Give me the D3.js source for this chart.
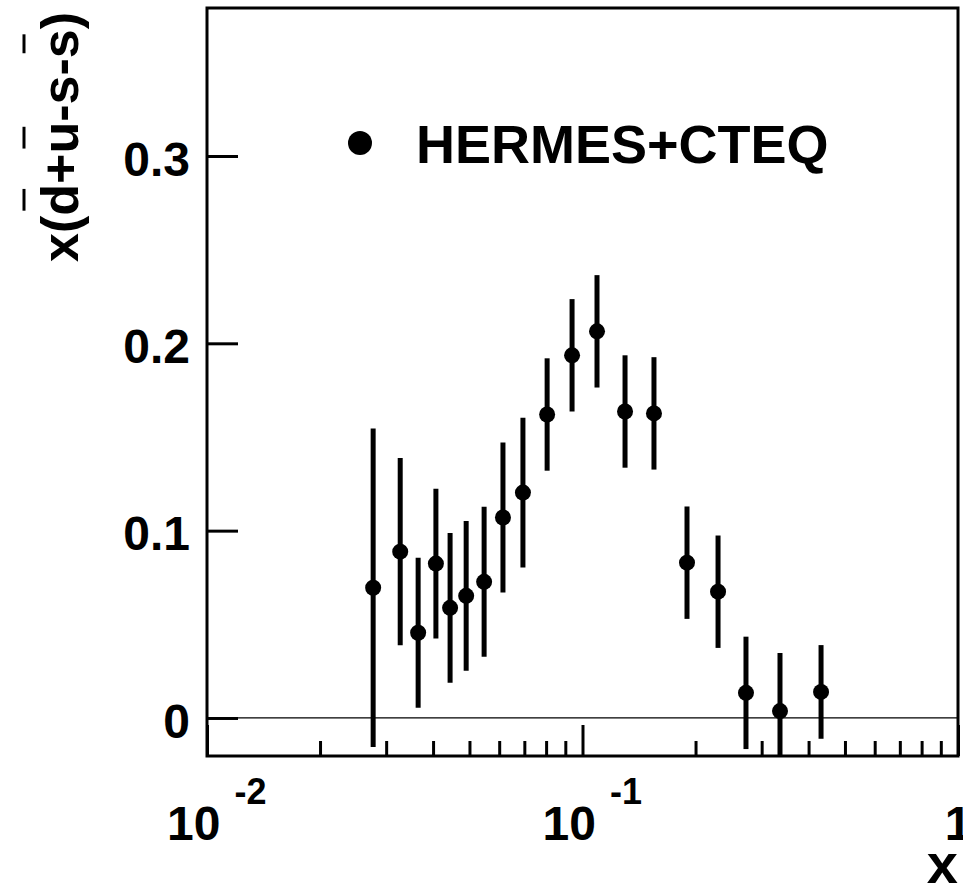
<!DOCTYPE html>
<html>
<head>
  <meta charset="utf-8">
  <title>HERMES+CTEQ</title>
  <script src="https://d3js.org/d3.v7.min.js"></script>
  <style>
    body { margin: 0; background: #fff; }
    svg text { font-family: "Liberation Sans", Arial, sans-serif; font-weight: bold; fill: #000; }
  </style>
</head>
<body>
<div id="chart"></div>
<script>
// data
var xVals = [0.0277, 0.0327, 0.0365, 0.0407, 0.0444, 0.0490, 0.0547, 0.0614, 0.0694,
             0.0805, 0.0938, 0.1093, 0.1298, 0.1550, 0.1898, 0.2296, 0.2725, 0.3357, 0.4318];
var yVals = [0.0695, 0.0888, 0.0455, 0.0824, 0.0588, 0.0652, 0.0727, 0.1070, 0.1203,
             0.1620, 0.1936, 0.2064, 0.1636, 0.1626, 0.0829, 0.0674, 0.0134, 0.0037, 0.0139];
var yErr  = [0.085, 0.050, 0.040, 0.040, 0.040, 0.040, 0.040, 0.040, 0.040,
             0.030, 0.030, 0.030, 0.030, 0.030, 0.030, 0.030, 0.030, 0.031, 0.025];

var yTicks = [0, 0.1, 0.2, 0.3];
var xMajor = [0.01, 0.1, 1];
var xMinor = [0.02, 0.03, 0.04, 0.05, 0.06, 0.07, 0.08, 0.09,
              0.2, 0.3, 0.4, 0.5, 0.6, 0.7, 0.8, 0.9];
var xLabelBase = ["10", "10", "1"];
var xLabelExp  = ["-2", "-1", ""];
var legendText = "HERMES+CTEQ";
var yTitle = "x(d+u-s-s)";
var barredChars = [2, 4, 8];   // d, u and the last s get a bar

var W = 963, H = 885;
var fLeft = 207, fRight = 958, fTop = 8, fBottom = 756;

var svg = d3.select("#chart").append("svg")
  .attr("width", W)
  .attr("height", H);

var x = d3.scaleLog().domain([0.01, 1]).range([fLeft, fRight]);
var y = d3.scaleLinear().domain([-0.0203, 0.379]).range([fBottom, fTop]);

svg.append("clipPath").attr("id", "frame")
  .append("rect")
  .attr("x", fLeft).attr("y", fTop)
  .attr("width", fRight - fLeft).attr("height", fBottom - fTop);

// zero line
svg.append("line")
  .attr("x1", fLeft).attr("x2", fRight)
  .attr("y1", y(0)).attr("y2", y(0))
  .attr("stroke", "#000").attr("stroke-width", 1.2);

// y axis: ticks pointing into the frame, labels on the left
var yAxis = svg.append("g")
  .attr("transform", "translate(" + fLeft + ",0)")
  .call(d3.axisLeft(y).tickValues(yTicks).tickSize(-31).tickPadding(17)
    .tickFormat(function(d) { return d === 0 ? "0" : d.toFixed(1); }));
yAxis.select(".domain").remove();
yAxis.selectAll("line").attr("stroke-width", 3);
yAxis.selectAll("text")
  .attr("font-size", 48)
  .attr("font-family", "Liberation Sans, Arial, sans-serif")
  .attr("font-weight", "bold")
  .attr("dy", "0.4em");

// x axis ticks pointing up from the bottom
var xMinorG = svg.append("g")
  .attr("transform", "translate(0," + fBottom + ")")
  .call(d3.axisTop(x).tickValues(xMinor).tickSize(15).tickFormat(""));
xMinorG.select(".domain").remove();
xMinorG.selectAll("line").attr("stroke-width", 3);

var xMajorG = svg.append("g")
  .attr("transform", "translate(0," + fBottom + ")")
  .call(d3.axisTop(x).tickValues(xMajor).tickSize(31).tickFormat(""));
xMajorG.select(".domain").remove();
xMajorG.selectAll("line").attr("stroke-width", 3);

// x tick labels with exponents
xMajor.forEach(function(v, i) {
  var t = svg.append("text")
    .attr("y", 840)
    .attr("font-size", 48);
  if (xLabelExp[i]) {
    t.attr("x", x(v) - 40).text(xLabelBase[i]);
    t.append("tspan")
      .attr("dx", 14).attr("dy", -36)
      .attr("font-size", 36)
      .text(xLabelExp[i]);
  } else {
    t.attr("x", x(v)).attr("text-anchor", "middle").text(xLabelBase[i]);
  }
});

// frame
svg.append("rect")
  .attr("x", fLeft).attr("y", fTop)
  .attr("width", fRight - fLeft).attr("height", fBottom - fTop)
  .attr("fill", "none")
  .attr("stroke", "#000")
  .attr("stroke-width", 3);

// data
var pts = xVals.map(function(v, i) { return { x: v, y: yVals[i], e: yErr[i] }; });
var g = svg.append("g").attr("clip-path", "url(#frame)");

g.selectAll("line.err").data(pts).enter().append("line")
  .attr("class", "err")
  .attr("x1", function(d) { return x(d.x); })
  .attr("x2", function(d) { return x(d.x); })
  .attr("y1", function(d) { return y(d.y - d.e); })
  .attr("y2", function(d) { return y(d.y + d.e); })
  .attr("stroke", "#000")
  .attr("stroke-width", 5);

g.selectAll("circle").data(pts).enter().append("circle")
  .attr("cx", function(d) { return x(d.x); })
  .attr("cy", function(d) { return y(d.y); })
  .attr("r", 8)
  .attr("fill", "#000");

// legend
svg.append("circle").attr("cx", 360).attr("cy", 143).attr("r", 12).attr("fill", "#000");
svg.append("text")
  .attr("x", 416).attr("y", 163)
  .attr("font-size", 54)
  .text(legendText);

// axis titles
svg.append("text")
  .attr("x", fRight).attr("y", 883)
  .attr("text-anchor", "end")
  .attr("font-size", 56)
  .text("x");

var yt = svg.append("g").attr("transform", "translate(78,12) rotate(-90)");
var ytText = yt.append("text")
  .attr("text-anchor", "end")
  .attr("font-size", 52)
  .text(yTitle);
var node = ytText.node();
barredChars.forEach(function(i) {
  var a = node.getStartPositionOfChar(i).x;
  var b = node.getEndPositionOfChar(i).x;
  yt.append("line")
    .attr("x1", a + 5).attr("x2", b - 5)
    .attr("y1", -54).attr("y2", -54)
    .attr("stroke", "#000")
    .attr("stroke-width", 3);
});
</script>
</body>
</html>
